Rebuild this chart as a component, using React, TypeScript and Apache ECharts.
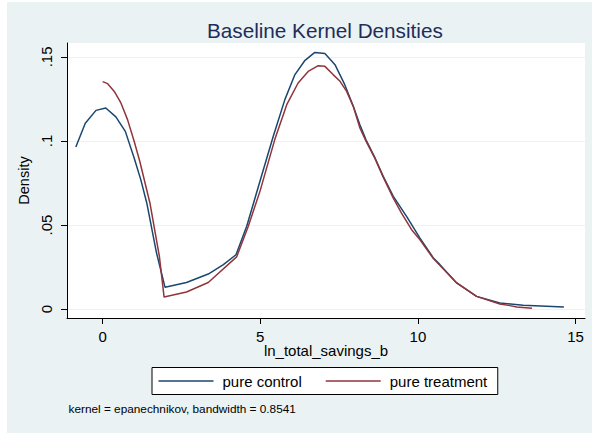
import React, { useEffect, useRef } from "react";
import * as echarts from "echarts";

const controlX = [-0.85, -0.55, -0.21, 0.1, 0.42, 0.72, 1.0, 1.21, 1.4, 1.71, 1.98, 2.66, 3.35, 3.83, 4.23, 4.57, 4.99, 5.41, 5.78, 6.1, 6.42, 6.73, 7.05, 7.37, 7.68, 7.95, 8.16, 8.35, 8.64, 8.9, 9.22, 9.64, 10.06, 10.49, 10.7, 11.23, 11.86, 12.6, 13.34, 14.63];
const controlY = [0.0964, 0.1105, 0.1182, 0.1196, 0.1143, 0.1057, 0.0899, 0.077, 0.0631, 0.0333, 0.0129, 0.0158, 0.0208, 0.0264, 0.0323, 0.0492, 0.076, 0.1027, 0.1246, 0.1395, 0.148, 0.1527, 0.152, 0.1454, 0.1335, 0.1206, 0.1097, 0.1008, 0.0899, 0.0789, 0.067, 0.0551, 0.0423, 0.0304, 0.0264, 0.0155, 0.0075, 0.0036, 0.0022, 0.0012];

const treatX = [0.0, 0.16, 0.37, 0.58, 0.79, 1.0, 1.18, 1.5, 1.8, 1.95, 2.66, 3.35, 4.25, 4.62, 4.99, 5.46, 5.84, 6.2, 6.52, 6.84, 7.05, 7.31, 7.53, 7.74, 7.95, 8.16, 8.35, 8.64, 8.9, 9.22, 9.48, 9.8, 10.06, 10.49, 11.23, 11.86, 12.6, 12.92, 13.13, 13.62];
const treatY = [0.1353, 0.1341, 0.1295, 0.1226, 0.1127, 0.0998, 0.0878, 0.0631, 0.0313, 0.0071, 0.0101, 0.0158, 0.031, 0.0492, 0.07, 0.1008, 0.1216, 0.1345, 0.1414, 0.1448, 0.1444, 0.1395, 0.1355, 0.1295, 0.1206, 0.1077, 0.1, 0.0895, 0.0785, 0.066, 0.0571, 0.0472, 0.0413, 0.03, 0.0155, 0.0075, 0.003, 0.002, 0.0012, 0.0004];

const xTicks = [0, 5, 10, 15];
const yTicks = [0, 0.05, 0.1, 0.15];
const yTickLabels = ["0", ".05", ".1", ".15"];

const seriesNames = ["pure control", "pure treatment"];
const seriesColors = ["#1a476f", "#90353b"];
const titleText = "Baseline Kernel Densities";
const xName = "ln_total_savings_b";
const yName = "Density";
const noteText = "kernel = epanechnikov, bandwidth = 0.8541";

const FONT = "'Liberation Sans', Arial, sans-serif";
const LINE_ICON = "path://M0,0H110V3H0Z";

export default function App() {
  const ref = useRef<HTMLDivElement>(null);
  useEffect(() => {
    if (!ref.current) return;
    const chart = echarts.init(ref.current, null, { renderer: "svg" });
    const pairs = (xs: number[], ys: number[]) => xs.map((x, i) => [x, ys[i]]);
    chart.setOption({
      animation: false,
      backgroundColor: "#EAF2F3",
      textStyle: { fontFamily: FONT },
      title: {
        text: titleText,
        left: 200,
        top: 17.5,
        padding: 0,
        textStyle: { fontFamily: FONT, fontSize: 20.7, fontWeight: "normal", color: "#1e2d5a" },
      },
      grid: {
        left: 60,
        top: 41,
        right: 7,
        bottom: 115,
        show: true,
        backgroundColor: "#ffffff",
        borderWidth: 0,
        containLabel: false,
      },
      legend: {
        left: 145,
        top: 365.5,
        padding: [6, 10.5, 6, 6.5],
        itemWidth: 55,
        itemHeight: 15,
        itemGap: 24,
        backgroundColor: "#ffffff",
        borderColor: "#000000",
        borderWidth: 1,
        borderRadius: 0,
        textStyle: { fontFamily: FONT, fontSize: 15, color: "#000", padding: [0, 0, 0, 4] },
        data: seriesNames.map((n, i) => ({
          name: n,
          icon: LINE_ICON,
          itemStyle: { color: seriesColors[i], borderWidth: 0 },
        })),
      },
      xAxis: {
        type: "value",
        min: -1.13,
        max: 15.3,
        name: xName,
        nameLocation: "middle",
        nameGap: 25,
        nameMoveOverlap: false,
        nameTextStyle: { fontFamily: FONT, fontSize: 15, color: "#000" },
        axisLine: { show: true, onZero: false, lineStyle: { color: "#000", width: 1 } },
        axisTick: { show: true, length: 6, customValues: xTicks, lineStyle: { color: "#000" } },
        axisLabel: { customValues: xTicks, margin: 11, fontFamily: FONT, fontSize: 15, color: "#000" },
        splitLine: { show: false },
      },
      yAxis: {
        type: "value",
        min: -0.00536,
        max: 0.1583,
        name: yName,
        nameLocation: "middle",
        nameGap: 34,
        nameRotate: 90,
        nameTextStyle: { fontFamily: FONT, fontSize: 14.5, color: "#000" },
        axisLine: { show: true, onZero: false, lineStyle: { color: "#000", width: 1 } },
        axisTick: { show: true, length: 6, customValues: yTicks, lineStyle: { color: "#000" } },
        axisLabel: {
          customValues: yTicks,
          rotate: 90,
          margin: 13,
          fontFamily: FONT,
          fontSize: 15,
          color: "#000",
          formatter: (v: number) => {
            const i = yTicks.findIndex((t) => Math.abs(t - v) < 1e-9);
            return i >= 0 ? yTickLabels[i] : "";
          },
        },
        splitLine: { show: true, lineStyle: { color: "#EAF2F3", width: 1 } },
      },
      graphic: [
        {
          type: "text",
          x: 61.5,
          y: 406.5,
          style: {
            text: noteText,
            fill: "#000",
            font: `11.8px ${FONT}`,
            verticalAlign: "middle",
          },
        },
      ],
      series: seriesNames.map((n, i) => ({
        name: n,
        type: "line",
        data: i === 0 ? pairs(controlX, controlY) : pairs(treatX, treatY),
        symbol: "none",
        showSymbol: false,
        smooth: false,
        lineStyle: { color: seriesColors[i], width: 1.5 },
        itemStyle: { color: seriesColors[i] },
      })),
    });
    return () => chart.dispose();
  }, []);
  return (
    <div style={{ position: "fixed", left: 0, top: 0, width: 592, height: 433, background: "#fff" }}>
      <div ref={ref} style={{ position: "absolute", left: 7, top: 2, width: 585, height: 431 }} />
    </div>
  );
}
